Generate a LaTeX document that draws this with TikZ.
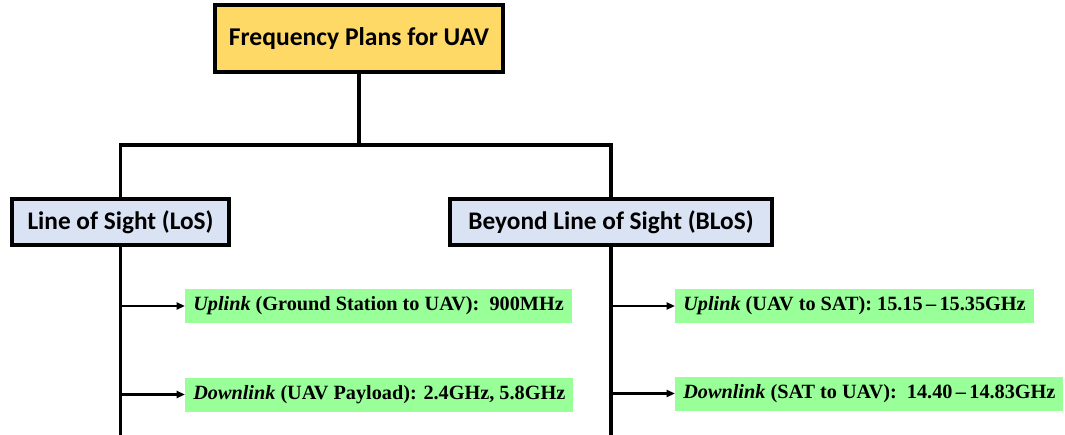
\documentclass[tikz,border=0pt]{standalone}
\usepackage{fontspec}
\setmainfont{Liberation Serif}
\newfontfamily\calibri{Carlito}
\usetikzlibrary{arrows.meta}
\definecolor{planfill}{HTML}{FFD966}
\definecolor{sightfill}{HTML}{DAE3F3}
\definecolor{bandfill}{HTML}{99FF99}
\begin{document}
\begin{tikzpicture}[x=0.025cm, y=-0.025cm,
    headbox/.style={draw, line width=2.8pt, fill=planfill, inner sep=0pt,
      minimum width=7.2cm, minimum height=1.675cm, font=\calibri\bfseries\fontsize{18.2}{22}\selectfont},
    sightbox/.style={draw, line width=2.4pt, fill=sightfill, inner sep=0pt,
      minimum height=1.15cm, font=\calibri\bfseries\fontsize{18}{22}\selectfont},
    bandbox/.style={fill=bandfill, anchor=west, inner xsep=0.2cm, inner ysep=0pt,
      minimum height=0.85cm, font=\bfseries\fontsize{14.4}{17}\selectfont},
    trunk/.style={line width=2.5pt},
    feed/.style={line width=1.8pt, -{Triangle[length=6pt,width=5pt]}}]

  \useasboundingbox (0,0) rectangle (1065,434);

  \node[headbox] (plans) at (359,38.5) {Frequency Plans for UAV};

  \node[sightbox, minimum width=5.425cm] (los) at (120.5,222) {Line of Sight (LoS)};
  \node[sightbox, minimum width=8.05cm] (blos) at (611,222) {Beyond Line of Sight (BLoS)};

  \coordinate (bus) at (359,145);
  \coordinate (losend) at (120.5,436);
  \coordinate (blosend) at (611,436);

  \draw[trunk] (plans.south) -- (bus);
  \draw[trunk] (los.north) -- (los.north |- bus) -- (blos.north |- bus) -- (blos.north);
  \draw[trunk] (los.south) -- (losend);
  \draw[trunk] (blos.south) -- (blosend);

  \node[bandbox] (losup) at (185,306) {\textit{Uplink} (Ground Station to UAV):\ \ 900MHz};
  \node[bandbox] (losdown) at (185,394.5) {\textit{Downlink} (UAV Payload): 2.4GHz, 5.8GHz};

  \node[bandbox] (blosup) at (675,306) {\textit{Uplink} (UAV to SAT): 15.15\,--\,15.35GHz};
  \node[bandbox] (blosdown) at (675,393.5) {\textit{Downlink} (SAT to UAV):\ \ 14.40\,--\,14.83GHz};

  \draw[feed] (los.south |- losup.west) -- (losup.west);
  \draw[feed] (los.south |- losdown.west) -- (losdown.west);
  \draw[feed] (blos.south |- blosup.west) -- (blosup.west);
  \draw[feed] (blos.south |- blosdown.west) -- (blosdown.west);

\end{tikzpicture}
\end{document}
